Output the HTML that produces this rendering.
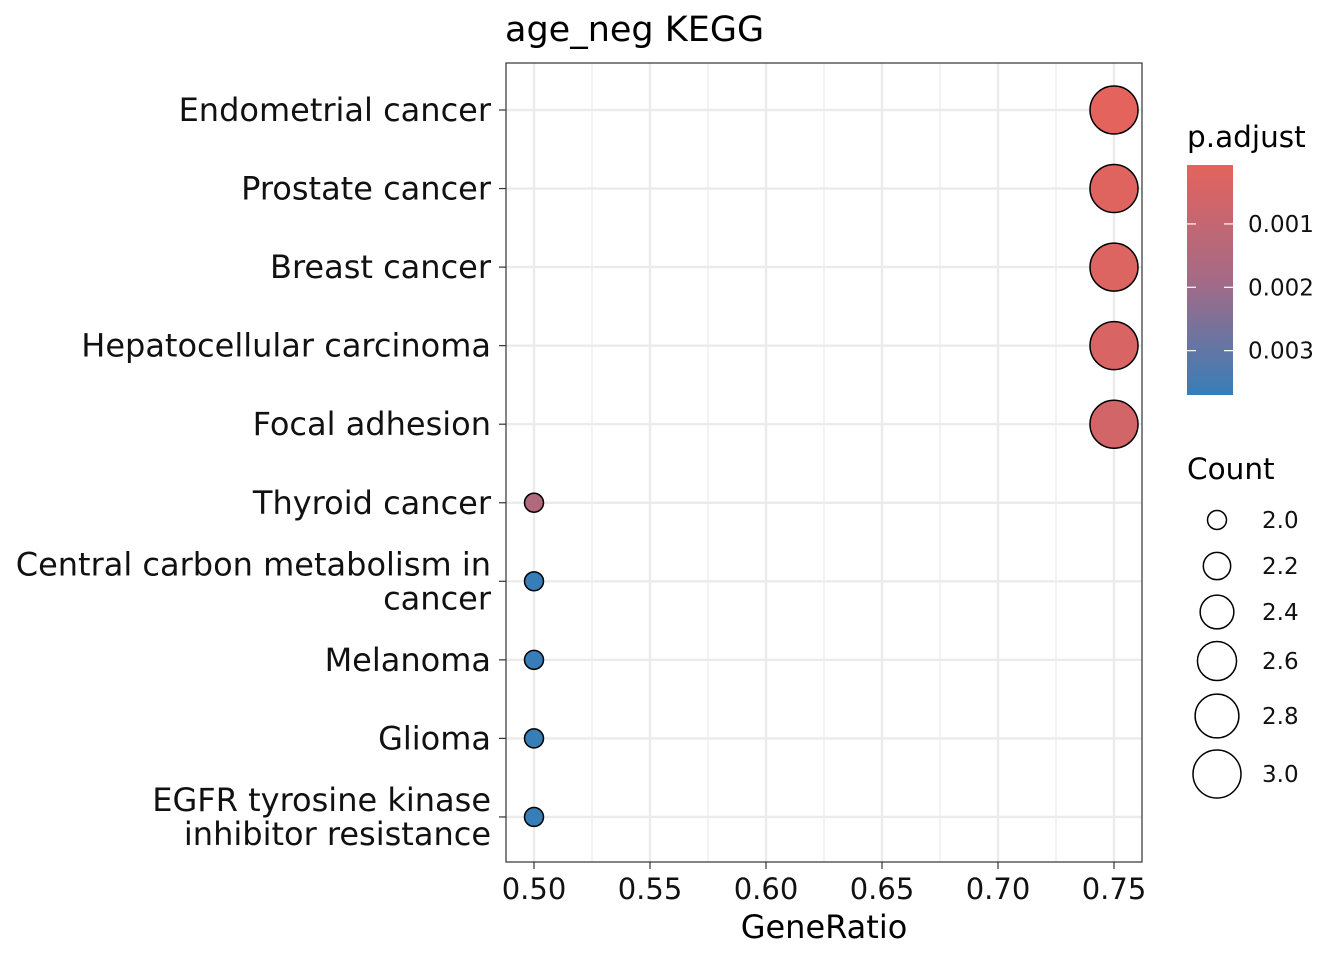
<!DOCTYPE html>
<html><head><meta charset="utf-8"><style>
body{margin:0;background:#fff;font-family:"Liberation Sans","DejaVu Sans",sans-serif}
svg text{font-family:"DejaVu Sans","Liberation Sans",sans-serif}
</style></head><body>
<svg id="c" width="1344" height="960" xmlns="http://www.w3.org/2000/svg">
<defs><linearGradient id="g" x1="0" y1="0" x2="0" y2="1">
<stop offset="0" stop-color="#e4635c"/><stop offset="0.5" stop-color="#a56a86"/><stop offset="1" stop-color="#377eb8"/></linearGradient></defs>
<text x="505" y="41" font-size="35" fill="#000">age_neg KEGG</text>
<g id="grid"></g>
<g id="pts"></g>
<rect x="506" y="63" width="636" height="799" fill="none" stroke="#333" stroke-width="1.2"/>
<g id="ax"></g>
<text x="824" y="938" font-size="32" text-anchor="middle">GeneRatio</text>
<g>
<text x="1187" y="147" font-size="29.5">p.adjust</text>
<rect x="1187" y="165" width="46" height="230" fill="url(#g)"/>
<g id="cleg"></g>
</g>
<g>
<text x="1187" y="479" font-size="29.5">Count</text>
<g id="sleg"></g>
</g>
</svg>
<script>
const categories=["Endometrial cancer","Prostate cancer","Breast cancer","Hepatocellular carcinoma","Focal adhesion","Thyroid cancer","Central carbon metabolism in|cancer","Melanoma","Glioma","EGFR tyrosine kinase|inhibitor resistance"];
const geneRatio=[0.75,0.75,0.75,0.75,0.75,0.5,0.5,0.5,0.5,0.5];
const counts=[3,3,3,3,3,2,2,2,2,2];
const padj=[0.00008,0.0002,0.0003,0.0004,0.0006,0.0015,0.0037,0.0037,0.0037,0.0037];
const xTicks=[0.50,0.55,0.60,0.65,0.70,0.75];
const cTicks=[0.001,0.002,0.003];
const sTicks=[2.0,2.2,2.4,2.6,2.8,3.0];
const NS="http://www.w3.org/2000/svg";
const X=v=>534+(v-0.5)*2320;
const Y=i=>110+i*78.55;
const R=c=>Math.sqrt(90+(c-2)*(576-90));
const pMin=0.00007,pMax=0.0037;
const CY=p=>165+(p-pMin)/(pMax-pMin)*230;
function lerp(a,b,t){return a.map((v,i)=>Math.round(v+(b[i]-v)*t));}
function col(p){const t=Math.max(0,Math.min(1,(p-pMin)/(pMax-pMin)));const a=[228,99,92],m=[165,106,134],b=[55,126,184];const c=t<0.5?lerp(a,m,t*2):lerp(m,b,(t-0.5)*2);return `rgb(${c})`;}
function el(t,a,p){const e=document.createElementNS(NS,t);for(const k in a)e.setAttribute(k,a[k]);p.appendChild(e);return e;}
const grid=document.getElementById('grid'),ax=document.getElementById('ax'),pts=document.getElementById('pts');
for(let k=0;k<xTicks.length-1;k++){const m=(xTicks[k]+xTicks[k+1])/2;const l=el('line',{x1:X(m),x2:X(m),y1:63,y2:862,stroke:'#ebebeb','stroke-width':1.2},grid);}
xTicks.forEach(v=>{const l=el('line',{x1:X(v),x2:X(v),y1:63,y2:862,stroke:'#ebebeb','stroke-width':2.4},grid);
const t=el('line',{x1:X(v),x2:X(v),y1:862,y2:869,stroke:'#333','stroke-width':1.2},ax);
const tx=el('text',{x:X(v),y:899,'font-size':29,'text-anchor':'middle',fill:'#111'},ax);tx.textContent=v.toFixed(2);});
categories.forEach((c,i)=>{const y=Y(i);const l=el('line',{x1:506,x2:1142,y1:y,y2:y,stroke:'#ebebeb','stroke-width':2.4},grid);
const t=el('line',{x1:499,x2:506,y1:y,y2:y,stroke:'#333','stroke-width':1.2},ax);
const parts=c.split('|');parts.forEach((p,j)=>{const tx=el('text',{x:491,y:y+11+(j-(parts.length-1)/2)*34,'font-size':32,'text-anchor':'end',fill:'#111'},ax);tx.textContent=p;});
const d=el('circle',{cx:X(geneRatio[i]),cy:y,r:R(counts[i]),fill:col(padj[i]),stroke:'#000','stroke-width':1.5},pts);});
const cl=document.getElementById('cleg');
cTicks.forEach(v=>{const y=CY(v);[1187,1224].forEach(x=>{const l=el('line',{x1:x,x2:x+9,y1:y,y2:y,stroke:'#fff','stroke-width':1.2},cl);});
const t=el('text',{x:1248,y:y+8,'font-size':23,fill:'#111'},cl);t.textContent=v.toFixed(3);});
const sl=document.getElementById('sleg');
const sy=[520,566,612,661,716,774];
sTicks.forEach((v,i)=>{const c=el('circle',{cx:1217,cy:sy[i],r:R(v),fill:'#fff',stroke:'#000','stroke-width':1.5},sl);
const t=el('text',{x:1262,y:sy[i]+8,'font-size':23,fill:'#111'},sl);t.textContent=v.toFixed(1);});
</script>
</body></html>
